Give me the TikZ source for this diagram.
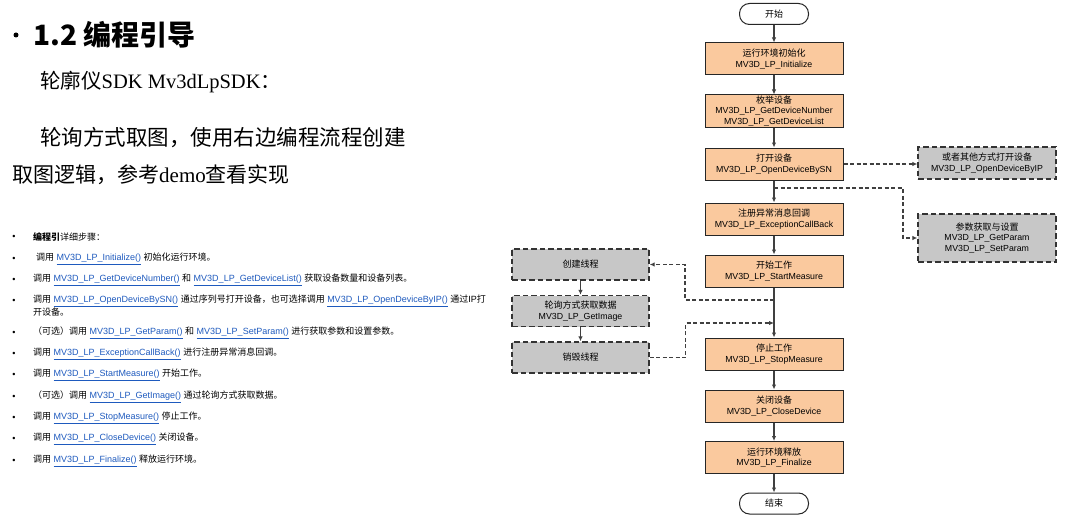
\documentclass[tikz,border=0pt]{standalone}
\usepackage{fontspec}
\setmainfont{Liberation Sans}
\newfontfamily\cjk{Noto Sans CJK SC}
\newfontfamily\serifl{Liberation Serif}
\usetikzlibrary{arrows.meta}
\definecolor{peach}{RGB}{250,201,158}
\definecolor{boxgray}{RGB}{199,199,199}
\definecolor{linkblue}{RGB}{30,90,190}
\definecolor{linegray}{RGB}{64,64,64}
\newcommand{\zh}[1]{{\cjk #1}}
\newcommand{\lt}[1]{{\fontsize{8.8}{10.5}\selectfont #1}}
\newcommand{\lk}[1]{{\color{linkblue}\underline{#1}}}
\tikzset{
  mainbox/.style={draw=black!85, line width=1pt, fill=peach, minimum width=138pt,
    minimum height=32pt, inner sep=0pt, align=center, font=\fontsize{9}{10.5}\selectfont},
  term/.style={draw=black!85, line width=1pt, fill=white, rounded corners=10pt,
    minimum width=69pt, minimum height=21pt, inner sep=0pt, font=\fontsize{9}{10.5}\selectfont},
  graybox/.style={draw=black!80, line width=1.3pt, dash pattern=on 5.5pt off 3pt, fill=boxgray,
    minimum width=138pt, minimum height=32pt, inner sep=0pt, align=center,
    font=\fontsize{9}{10.5}\selectfont},
  flow/.style={-{Latex[length=5pt,width=4.5pt]}, draw=linegray, line width=1.1pt},
  dflow/.style={flow, dash pattern=on 4pt off 2.5pt},
  item/.style={anchor=west, inner sep=0pt, font=\fontsize{9}{11}\selectfont},
  bul/.style={anchor=center, inner sep=0pt, font=\fontsize{9}{11}\selectfont}
}
\begin{document}
\begin{tikzpicture}[x=1pt,y=-1pt]
\fill[white] (0,0) rectangle (1066,519);
\useasboundingbox (0,0) rectangle (1066,519);

% ---------- left text ----------
\node[circle, fill=black, inner sep=0pt, minimum size=5pt] (tb) at (16,35) {};
\node[anchor=west, inner sep=0pt, font=\cjk\bfseries\fontsize{28}{30}\selectfont] (title) at (33,35) {1.2 编程引导};
\node[anchor=west, inner sep=0pt] (p1) at (40,82) {\fontsize{20.5}{22}\selectfont\zh{轮廓仪}\serifl SDK Mv3dLpSDK\zh{：}};
\node[anchor=west, inner sep=0pt] (p2) at (40,138) {\fontsize{21.5}{23}\selectfont\zh{轮询方式取图，使用右边编程流程创建}};
\node[anchor=west, inner sep=0pt] (p3) at (12,175) {\fontsize{21}{23}\selectfont\zh{取图逻辑，参考}\serifl demo\zh{查看实现}};

% bullets
\foreach \y/\n in {237/1,259/2,280/3,301/4,333/5,354/6,375/7,397/8,418/9,439/10,461/11}
  \node[bul] (b\n) at (14,\y) {•};

\node[item] (i1) at (33,237) {\zh{\bfseries 编程引}\zh{详细步骤：}};
\node[item] (i2) at (36,259) {\zh{调用} \lk{MV3D\_LP\_Initialize()} \zh{初始化运行环境。}};
\node[item] (i3) at (33,280) {\zh{调用} \lk{MV3D\_LP\_GetDeviceNumber()} \zh{和} \lk{MV3D\_LP\_GetDeviceList()} \zh{获取设备数量和设备列表。}};
\node[item] (i4) at (33,301) {\zh{调用} \lk{MV3D\_LP\_OpenDeviceBySN()} \zh{通过序列号打开设备，也可选择调用} \lk{MV3D\_LP\_OpenDeviceByIP()} \zh{通过}IP\zh{打}};
\node[item] (i4b) at (33,312) {\zh{开设备。}};
\node[item] (i5) at (33,333) {\zh{（可选）调用} \lk{MV3D\_LP\_GetParam()} \zh{和} \lk{MV3D\_LP\_SetParam()} \zh{进行获取参数和设置参数。}};
\node[item] (i6) at (33,354) {\zh{调用} \lk{MV3D\_LP\_ExceptionCallBack()} \zh{进行注册异常消息回调。}};
\node[item] (i7) at (33,375) {\zh{调用} \lk{MV3D\_LP\_StartMeasure()} \zh{开始工作。}};
\node[item] (i8) at (33,397) {\zh{（可选）调用} \lk{MV3D\_LP\_GetImage()} \zh{通过轮询方式获取数据。}};
\node[item] (i9) at (33,418) {\zh{调用} \lk{MV3D\_LP\_StopMeasure()} \zh{停止工作。}};
\node[item] (i10) at (33,439) {\zh{调用} \lk{MV3D\_LP\_CloseDevice()} \zh{关闭设备。}};
\node[item] (i11) at (33,461) {\zh{调用} \lk{MV3D\_LP\_Finalize()} \zh{释放运行环境。}};

% ---------- flowchart ----------
\node[term] (start) at (774,14) {\zh{开始}};
\node[mainbox] (n1) at (774,59) {\zh{运行环境初始化}\\\lt{MV3D\_LP\_Initialize}};
\node[mainbox] (n2) at (774,111) {\zh{枚举设备}\\\lt{MV3D\_LP\_GetDeviceNumber}\\\lt{MV3D\_LP\_GetDeviceList}};
\node[mainbox] (n3) at (774,164) {\zh{打开设备}\\\lt{MV3D\_LP\_OpenDeviceBySN}};
\node[mainbox] (n4) at (774,219) {\zh{注册异常消息回调}\\\lt{MV3D\_LP\_ExceptionCallBack}};
\node[mainbox] (n5) at (774,271) {\zh{开始工作}\\\lt{MV3D\_LP\_StartMeasure}};
\node[mainbox] (n6) at (774,354) {\zh{停止工作}\\\lt{MV3D\_LP\_StopMeasure}};
\node[mainbox] (n7) at (774,406) {\zh{关闭设备}\\\lt{MV3D\_LP\_CloseDevice}};
\node[mainbox] (n8) at (774,457.5) {\zh{运行环境释放}\\\lt{MV3D\_LP\_Finalize}};
\node[term] (end) at (774,503.5) {\zh{结束}};

\node[graybox] (r1) at (987,163) {\zh{或者其他方式打开设备}\\\lt{MV3D\_LP\_OpenDeviceByIP}};
\node[graybox, minimum height=48pt] (r2) at (987,238) {\zh{参数获取与设置}\\\lt{MV3D\_LP\_GetParam}\\\lt{MV3D\_LP\_SetParam}};

\node[graybox, minimum width=137pt, minimum height=31pt] (l1) at (580.5,264.5) {\zh{创建线程}};
\node[graybox, minimum width=137pt, minimum height=31pt] (l2) at (580.5,311) {\zh{轮询方式获取数据}\\\lt{MV3D\_LP\_GetImage}};
\node[graybox, minimum width=137pt, minimum height=31pt] (l3) at (580.5,357.5) {\zh{销毁线程}};

\draw[flow] (start) -- (n1);
\draw[flow] (n1) -- (n2);
\draw[flow] (n2) -- (n3);
\draw[flow] (n3) -- (n4);
\draw[flow] (n4) -- (n5);
\draw[flow] (n5) -- (n6);
\draw[flow] (n6) -- (n7);
\draw[flow] (n7) -- (n8);
\draw[flow] (n8) -- (end);
\draw[flow] (l1) -- (l2);
\draw[flow] (l2) -- (l3);

\coordinate (c1) at (774,188);
\coordinate (c2) at (774,300);
\coordinate (c3) at (774,323);
\draw[dflow] (n3.east) -- (r1.west |- n3.east);
\draw[dflow] (c1) -- ++(129,0) |- (r2.west);
\draw[dflow] (c2) -- ++(-89,0) |- (l1.east);
\draw[dflow] (l3.east) -- ++(36,0) |- (c3);
\end{tikzpicture}
\end{document}
